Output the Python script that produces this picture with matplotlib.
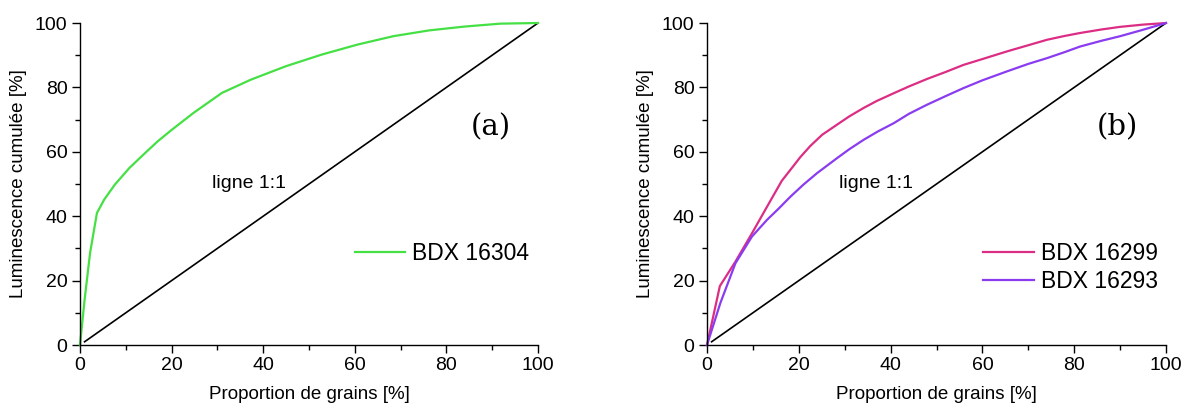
import matplotlib
matplotlib.use("Agg")
import matplotlib.pyplot as plt
from matplotlib.ticker import MultipleLocator

plt.rcParams['font.family'] = ['Liberation Sans', 'DejaVu Sans']

# Data
x_a = [0, 1.0, 2.2, 3.7, 5.3, 7.6, 10.8, 13.9, 17.0, 20.1, 24.8, 31.0, 37.3, 45.0, 52.8, 60.6, 68.4, 76.2, 84.0, 91.8, 100]
y_a = [0, 14.0, 28.6, 41.0, 45.2, 49.8, 55.0, 59.2, 63.3, 66.9, 72.1, 78.3, 82.4, 86.6, 90.2, 93.3, 95.9, 97.7, 98.9, 99.8, 100]

x_b1 = [0, 2.8, 6.2, 9.8, 13.1, 16.3, 18.5, 20.3, 22.5, 25.1, 28.3, 31.0, 34.1, 37.0, 40.7, 44.0, 47.9,
        52.0, 55.9, 60.0, 65.4, 70.0, 74.1, 78.0, 81.3, 86.0, 90.0, 95.0, 100]
y_b1 = [0, 18.3, 25.9, 34.7, 43.0, 51.0, 55.0, 58.3, 61.8, 65.3, 68.4, 71.0, 73.6, 75.8, 78.2, 80.3, 82.6,
        84.8, 87.0, 88.8, 91.2, 93.1, 94.8, 96.0, 96.9, 98.0, 98.8, 99.5, 100]

x_b2 = [0, 2.9, 6.2, 9.8, 13.1, 15.5, 18.2, 21.0, 24.0, 28.3, 31.0, 34.1, 37.2, 40.7, 44.0, 47.9, 52.0,
        55.9, 60.0, 65.4, 70.0, 74.1, 78.0, 81.3, 86.0, 90.0, 95.0, 100]
y_b2 = [0, 13.0, 25.4, 33.7, 38.9, 42.2, 46.1, 49.8, 53.4, 58.0, 60.8, 63.7, 66.3, 68.9, 71.8, 74.6, 77.3,
        79.8, 82.2, 85.0, 87.3, 89.1, 91.0, 92.7, 94.5, 95.9, 97.9, 100]

x_line = [1, 100]
y_line = [1, 100]

label_a = "BDX 16304"
label_b1 = "BDX 16299"
label_b2 = "BDX 16293"

fig = plt.figure(figsize=(11.87, 4.05), dpi=100)
ax1 = fig.add_axes([80/1187, 1-345/405, 458/1187, 322/405])
ax2 = fig.add_axes([707/1187, 1-345/405, 459/1187, 322/405])

def style(ax):
    ax.set_xlim(0, 100)
    ax.set_ylim(0, 100)
    for s in ['top', 'right']:
        ax.spines[s].set_visible(False)
    for s in ['left', 'bottom']:
        ax.spines[s].set_linewidth(1.0)
    ax.xaxis.set_major_locator(MultipleLocator(20))
    ax.xaxis.set_minor_locator(MultipleLocator(10))
    ax.yaxis.set_major_locator(MultipleLocator(20))
    ax.yaxis.set_minor_locator(MultipleLocator(10))
    ax.tick_params(which='major', direction='out', length=6, width=1, labelsize=14, pad=3)
    ax.tick_params(which='minor', direction='out', length=3.5, width=1)
    ax.set_xlabel("Proportion de grains [%]", fontsize=13.5, labelpad=8)
    ax.set_ylabel("Luminescence cumulée [%]", fontsize=13.5, labelpad=6)
    ax.plot(x_line, y_line, color='black', lw=1.2, clip_on=False)

style(ax1)
style(ax2)

ax1.plot(x_a, y_a, color='#44e044', lw=1.6, label=label_a, clip_on=False)
ax2.plot(x_b1, y_b1, color='#dc2d84', lw=1.6, label=label_b1, clip_on=False)
ax2.plot(x_b2, y_b2, color='#8a3cf0', lw=1.6, label=label_b2, clip_on=False)

ax1.text(36.9, 50.3, "ligne 1:1", fontsize=14, ha='center', va='center')
ax2.text(36.8, 50.3, "ligne 1:1", fontsize=14, ha='center', va='center')

ax1.text(89.8, 67.5, "(a)", family='DejaVu Serif', fontsize=21, ha='center', va='center')
ax2.text(89.5, 67.5, "(b)", family='DejaVu Serif', fontsize=21, ha='center', va='center')

leg_kw = dict(frameon=False, fontsize=16.5, handlelength=2.2, handletextpad=0.3,
              borderpad=0, borderaxespad=0, labelspacing=0.22, loc='center left')
ax1.legend(bbox_to_anchor=(0.600, 0.283), **leg_kw)
ax2.legend(bbox_to_anchor=(0.602, 0.241), **leg_kw)

fig.savefig("out.png", dpi=100)
